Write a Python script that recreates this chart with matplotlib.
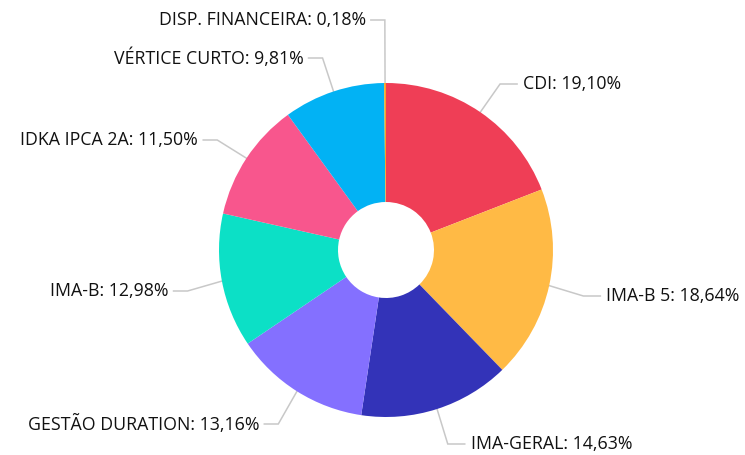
import numpy as np
import matplotlib
matplotlib.use("Agg")
import matplotlib.pyplot as plt

# ---- data ----
categories = ["CDI", "IMA-B 5", "IMA-GERAL", "GESTÃO DURATION", "IMA-B",
              "IDKA IPCA 2A", "VÉRTICE CURTO", "DISP. FINANCEIRA"]
values = [19.10, 18.64, 14.63, 13.16, 12.98, 11.50, 9.81, 0.18]
colors = ["#EF3E56", "#FFBA45", "#3333B8", "#8470FF", "#0CE0C6",
          "#F8568D", "#02B2F4", "#F5A623"]

# ---- layout (pixels, y from top) ----
W, H = 745, 455
cx, cy = 386, 250
R_OUT, R_IN = 167, 48
ELBOW_R = 202
label_y = [84, 296, 444, 424, 291, 140, 58, 20]

plt.rcParams['font.family'] = ['Open Sans', 'DejaVu Sans']
fig = plt.figure(figsize=(W / 100, H / 100), dpi=100)
ax = fig.add_axes([0, 0, 1, 1])
ax.set_xlim(0, W)
ax.set_ylim(0, H)
ax.set_aspect('equal')
ax.axis('off')

ccy = H - cy
wedges, _ = ax.pie(values, colors=colors, startangle=90, counterclock=False,
                   center=(cx, ccy), radius=R_OUT,
                   wedgeprops=dict(width=R_OUT - R_IN, linewidth=0))
ax.set_xlim(0, W)
ax.set_ylim(0, H)

total = sum(values)
cum = 0
for cat, v, ly in zip(categories, values, label_y):
    mid = 90 - (cum + v / 2) / total * 360
    cum += v
    a = np.deg2rad(mid)
    ex, ey = cx + R_OUT * np.cos(a), ccy + R_OUT * np.sin(a)
    bx = cx + ELBOW_R * np.cos(a)
    by = H - ly
    right = np.cos(a) >= 0 and mid > -269
    if right:
        lx_end = bx + 17
        tx = bx + 23
        ha = 'left'
    else:
        lx_end = bx - 14
        tx = bx - 19
        ha = 'right'
    ax.plot([ex, bx, lx_end], [ey, by, by], color="#c8c8c8", lw=1.1,
            solid_joinstyle='miter', zorder=0)
    num = f"{v:.2f}".replace(".", ",")
    label = f"{cat}: {num}%"
    ax.text(tx, by, label, ha=ha, va='center', fontsize=12.8, color="#111111")

fig.savefig("out.png", dpi=100)
